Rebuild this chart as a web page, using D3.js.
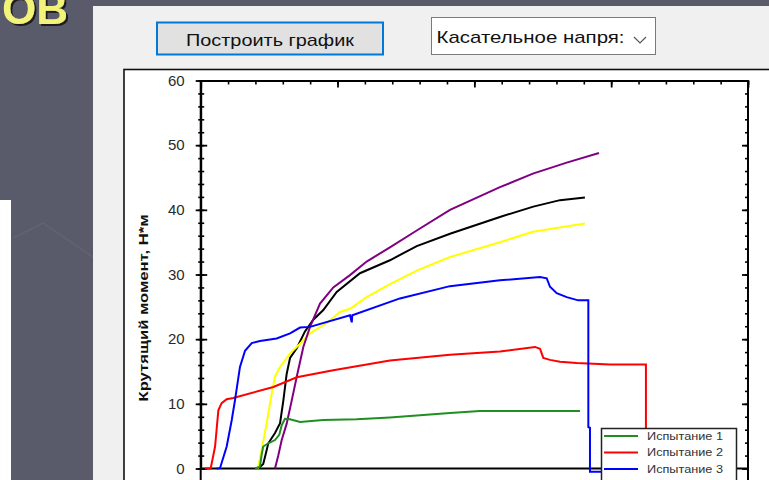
<!DOCTYPE html>
<html>
<head>
<meta charset="utf-8">
<script src="https://cdn.jsdelivr.net/npm/d3@7"></script>
<style>
  body { margin: 0; background: #595b6a; }
  svg { display: block; font-family: "Liberation Sans", Arial, sans-serif; }
</style>
</head>
<body>
<div id="chart"></div>
<script>
// Данные: [время, момент Н*м]
const test1 = [[39.7,0],[43.3,0.3],[44.6,2.2],[45.7,3.4],[49.4,3.9],[54.3,4.4],[57.4,5.2],[59.2,6.7],[61.6,7.7],[65.3,7.6],[72.6,7.2],[89.6,7.5],[114.0,7.6],[138.3,7.9],[182.2,8.6],[204.1,8.9],[248.0,8.9],[277.2,8.9]];
const test2 = [[3.1,0],[7.3,0],[10.5,3.4],[12.9,9.0],[15.3,10.1],[19.0,10.7],[23.8,10.9],[53.1,12.6],[70.2,14.1],[96.9,15.2],[138.3,16.7],[182.2,17.6],[218.7,18.1],[244.3,18.8],[248.0,18.5],[250.4,17.1],[255.3,16.8],[262.6,16.5],[274.8,16.3],[299.1,16.1],[325.4,16.1],[325.4,-0.3]];
const test3 = [[11.7,0],[14.1,0.05],[19.0,3.4],[22.7,7.5],[25.1,10.6],[28.7,15.7],[32.4,18.2],[37.3,19.4],[43.3,19.7],[55.5,20.1],[65.3,20.9],[72.6,21.8],[79.9,21.9],[109.1,23.7],[110.4,22.6],[110.8,23.7],[145.6,26.3],[182.2,28.2],[218.7,29.1],[248.0,29.6],[252.9,29.4],[255.3,28.1],[260.2,27.1],[267.5,26.5],[275.9,26.0],[283.3,26.0],[283.3,6.4],[284.5,6.3],[284.5,-0.5],[300,-0.5]];
const test4 = [[42.1,0],[45.7,0.7],[47.7,2.4],[49.4,3.9],[54.3,5.5],[58.0,7.0],[60.4,10.5],[62.8,14.6],[65.3,17.1],[70.2,18.6],[76.2,21.2],[82.3,23.0],[89.6,24.5],[99.4,27.3],[116.4,30.2],[138.3,32.2],[157.9,34.4],[182.2,36.3],[218.7,38.9],[243.1,40.5],[262.6,41.5],[280.8,41.9]];
const test5 = [[41.9,0],[44.6,3.0],[48.2,7.0],[51.9,11.6],[54.3,14.2],[58.0,15.7],[65.3,17.8],[72.6,19.3],[79.9,20.9],[92.1,22.5],[101.8,24.2],[109.1,24.7],[121.3,26.5],[138.3,28.5],[157.9,30.6],[182.2,32.7],[218.7,35.0],[242.8,36.6],[280.8,37.9]];
const test6 = [[54.3,0],[56.7,2.0],[59.2,4.4],[62.8,6.9],[66.5,10.5],[70.2,14.2],[75.0,18.8],[79.9,21.9],[87.2,25.5],[96.9,28.0],[109.1,29.9],[121.3,32.0],[138.3,34.2],[157.9,36.8],[182.2,40.0],[218.7,43.5],[242.8,45.6],[267.5,47.3],[291.1,48.8]];

const legendNames = ["Испытание 1", "Испытание 2", "Испытание 3"];
const yMajorTicks = [0, 10, 20, 30, 40, 50, 60];
const yMinorTicks = d3.range(0, 61, 2);
const xMajorTicks = d3.range(0, 401, 100);
const xMinorTicks = d3.range(0, 401, 20);

const width = 769, height = 480;
const svg = d3.select("#chart").append("svg")
    .attr("width", width).attr("height", height);

const defs = svg.append("defs");
defs.append("filter").attr("id", "shadow")
  .append("feDropShadow").attr("dx", 2).attr("dy", 2).attr("stdDeviation", 0.6)
  .attr("flood-color", "#1e1e24").attr("flood-opacity", 1);

// фон слайда
svg.append("rect").attr("width", width).attr("height", height).attr("fill", "#595b6a");
svg.append("rect").attr("x", 0).attr("y", 200).attr("width", 11).attr("height", 280).attr("fill", "#ffffff");
svg.append("path").attr("d", "M13,238 L43,223 L93,257").attr("fill", "none")
    .attr("stroke", "#62646f").attr("stroke-width", 1.5);
svg.append("text").attr("x", 68).attr("y", 24).attr("text-anchor", "end")
    .attr("font-size", 44).attr("font-weight", "bold").attr("fill", "#f3f37a")
    .attr("filter", "url(#shadow)").text("ОВ");

// окно программы
svg.append("rect").attr("x", 93).attr("y", 6).attr("width", 680).attr("height", 480).attr("fill", "#f0f0f0");

// кнопка
svg.append("rect").attr("x", 157).attr("y", 22.5).attr("width", 226).attr("height", 32)
    .attr("fill", "#e1e1e1").attr("stroke", "#0078d7").attr("stroke-width", 2);
svg.append("text").attr("x", 270).attr("y", 46).attr("text-anchor", "middle")
    .attr("font-size", 17).attr("fill", "#111")
    .attr("textLength", 168).attr("lengthAdjust", "spacingAndGlyphs").text("Построить график");

// выпадающий список
svg.append("rect").attr("x", 431.5).attr("y", 17.5).attr("width", 224).attr("height", 37)
    .attr("fill", "#ffffff").attr("stroke", "#7a7a7a").attr("stroke-width", 1);
svg.append("text").attr("x", 436.5).attr("y", 42.5)
    .attr("font-size", 17).attr("fill", "#111")
    .attr("textLength", 188).attr("lengthAdjust", "spacingAndGlyphs").text("Касательное напря:");
svg.append("path").attr("d", "M634,37 L640,43 L646,37").attr("fill", "none")
    .attr("stroke", "#555").attr("stroke-width", 1.2);

// область графика
svg.append("rect").attr("x", 124).attr("y", 69.5).attr("width", 700).attr("height", 450)
    .attr("fill", "#ffffff").attr("stroke", "#111").attr("stroke-width", 1.6);

const plotLeft = 200.7, plotRight = 748, plotTop = 80.5, plotBottom = 510;
const x = d3.scaleLinear().domain([0, 400]).range([plotLeft, plotRight]);
const y = d3.scaleLinear().domain([0, 60]).range([468.5, plotTop]);

const g = svg.append("g");

function styleAxis(sel, w) {
  sel.select(".domain").attr("stroke", "#000").attr("stroke-width", 2);
  sel.selectAll(".tick line").attr("stroke", "#000").attr("stroke-width", w);
}

// левая ось: штрихи пересекают линию оси
g.append("g").attr("transform", `translate(${plotLeft},0)`)
  .call(d3.axisLeft(y).tickValues(yMinorTicks).tickSize(2.5).tickFormat(""))
  .call(s => styleAxis(s, 1.6)).call(s => s.select(".domain").remove());
g.append("g").attr("transform", `translate(${plotLeft},0)`)
  .call(d3.axisRight(y).tickValues(yMinorTicks).tickSize(3.5).tickFormat(""))
  .call(s => styleAxis(s, 1.6)).call(s => s.select(".domain").remove());
g.append("g").attr("transform", `translate(${plotLeft},0)`)
  .call(d3.axisLeft(y).tickValues(yMajorTicks).tickSize(5).tickPadding(11).tickSizeOuter(0))
  .call(s => styleAxis(s, 1.8))
  .call(s => s.selectAll(".tick text").attr("font-size", 15).attr("fill", "#2a2a2a")
      .attr("font-family", "Liberation Sans, Arial, sans-serif"));
g.append("g").attr("transform", `translate(${plotLeft},0)`)
  .call(d3.axisRight(y).tickValues(yMajorTicks).tickSize(6.5).tickFormat(""))
  .call(s => styleAxis(s, 1.8)).call(s => s.select(".domain").remove());

// правая ось
g.append("g").attr("transform", `translate(${plotRight},0)`)
  .call(d3.axisLeft(y).tickValues(yMinorTicks).tickSize(3).tickFormat(""))
  .call(s => styleAxis(s, 1.6)).call(s => s.select(".domain").remove());
g.append("g").attr("transform", `translate(${plotRight},0)`)
  .call(d3.axisLeft(y).tickValues(yMajorTicks).tickSize(6).tickFormat(""))
  .call(s => styleAxis(s, 1.8)).call(s => s.select(".domain").remove());

// верхняя ось
g.append("g").attr("transform", `translate(0,${plotTop})`)
  .call(d3.axisTop(x).tickValues(xMinorTicks).tickSize(-4).tickFormat(""))
  .call(s => styleAxis(s, 1.6)).call(s => s.select(".domain").remove());
g.append("g").attr("transform", `translate(0,${plotTop})`)
  .call(d3.axisTop(x).tickValues(xMajorTicks).tickSize(-7).tickFormat("").tickSizeOuter(0))
  .call(s => styleAxis(s, 1.8));

// рамка
g.append("line").attr("x1", plotLeft).attr("x2", plotLeft).attr("y1", plotTop).attr("y2", plotBottom)
  .attr("stroke", "#000").attr("stroke-width", 2);
g.append("line").attr("x1", plotRight).attr("x2", plotRight).attr("y1", plotTop).attr("y2", plotBottom)
  .attr("stroke", "#000").attr("stroke-width", 2);
// линия нуля
g.append("line").attr("x1", plotLeft).attr("x2", plotRight).attr("y1", y(0)).attr("y2", y(0))
  .attr("stroke", "#000").attr("stroke-width", 2);

// подпись оси Y
svg.append("text")
  .attr("transform", `translate(148,308) rotate(-90)`)
  .attr("text-anchor", "middle").attr("font-size", 13).attr("font-weight", "bold")
  .attr("fill", "#111").attr("textLength", 187).attr("lengthAdjust", "spacingAndGlyphs")
  .text("Крутящий момент, Н*м");

const line = d3.line().x(d => x(d[0])).y(d => y(d[1]));
const series = [
  {data: test4, color: "#000000"},
  {data: test5, color: "#ffff00"},
  {data: test6, color: "#800080"},
  {data: test1, color: "#1f8f1f"},
  {data: test2, color: "#ff0000"},
  {data: test3, color: "#0000ff"}
];
g.selectAll("path.curve").data(series).enter().append("path")
  .attr("class", "curve")
  .attr("d", d => line(d.data))
  .attr("fill", "none").attr("stroke", d => d.color).attr("stroke-width", 2);

// легенда
const legendColors = ["#1f8f1f", "#ff0000", "#0000ff"];
const lg = svg.append("g");
lg.append("rect").attr("x", 601.5).attr("y", 428.5).attr("width", 135).attr("height", 80)
  .attr("fill", "#ffffff").attr("stroke", "#222").attr("stroke-width", 1.5);
legendNames.forEach((name, i) => {
  const ly = 436 + i * 16.5;
  lg.append("line").attr("x1", 604).attr("x2", 638).attr("y1", ly).attr("y2", ly)
    .attr("stroke", legendColors[i]).attr("stroke-width", 2);
  lg.append("text").attr("x", 647).attr("y", ly + 3.5).attr("font-size", 10)
    .attr("fill", "#333").attr("textLength", 76).attr("lengthAdjust", "spacingAndGlyphs")
    .text(name);
});
</script>
</body>
</html>
